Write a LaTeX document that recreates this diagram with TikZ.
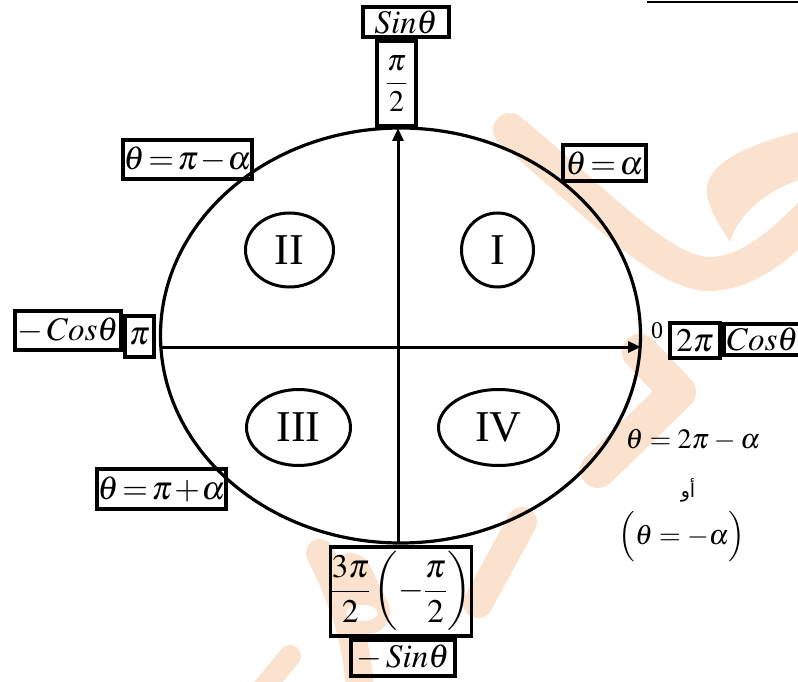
\documentclass[tikz,border=0pt]{standalone}
\usepackage{amsmath}
\usepackage{mathptmx}
\usepackage{fontspec}
\setmainfont{Liberation Serif}
\newfontfamily\arabicfont[Script=Arabic]{DejaVu Sans}
\TeXXeTstate=1
\usetikzlibrary{shapes.geometric,arrows.meta}
\definecolor{wm}{RGB}{251,226,206}
\begin{document}
\thickmuskip=2mu\relax
\medmuskip=1mu\relax
\begin{tikzpicture}[x=1pt,y=-1pt,
  box/.style={draw,fill=none,line width=3.5pt,inner sep=0pt,anchor=center,font=\fontsize{33}{40}\selectfont},
  quad/.style={draw,fill=none,ellipse,line width=3pt,inner sep=0pt,font=\fontsize{44}{50}\selectfont},
  axis/.style={line width=3pt,-{Triangle[length=13pt,width=11pt]}},
  note/.style={inner sep=0pt,font=\fontsize{28}{32}\selectfont},
  wmstroke/.style={wm,line cap=round,line join=round}]
\useasboundingbox (0,0) rectangle (798,682);
% watermark (approximate)
\draw[wmstroke,line width=34pt] (510,130) .. controls (600,205) and (660,272) .. (708,274) .. controls (745,274) and (775,250) .. (810,215);
\fill[wm] (805,130) .. controls (745,145) and (702,165) .. (707,195) .. controls (711,215) and (724,232) .. (730,242) .. controls (738,215) and (765,190) .. (805,178) -- cycle;
\draw[wmstroke,line width=36pt] (640,352) -- (678,392) -- (598,470);
\draw[wmstroke,line width=28pt] (320,553) .. controls (340,595) and (356,630) .. (360,690);
\draw[wmstroke,line width=44pt] (350,575) -- (368,612);
\fill[white] (362,613) ellipse [x radius=16, y radius=8];
\draw[wmstroke,line width=30pt] (522,522) -- (478,603);
\draw[wmstroke,line width=22pt] (262,690) -- (290,656);
% main circle
\node[draw,fill=none,ellipse,line width=3.2pt,minimum width=480pt,minimum height=415pt,inner sep=0pt] (circ) at (400.5,335.5) {};
\coordinate (west) at (160.8,347);
\coordinate (east) at (641,347);
\coordinate (south) at (398,543);
\coordinate (north) at (398,128);
\draw[axis] (west) -- (east);
\draw[axis] (south) -- (north);
% quadrants
\node[quad,minimum width=88pt,minimum height=74pt] (q2) at (289.5,250) {II};
\node[quad,minimum width=72pt,minimum height=74pt] (q1) at (497.5,250) {I};
\node[quad,minimum width=104pt,minimum height=76pt] (q3) at (298.5,427.5) {III};
\node[quad,minimum width=120pt,minimum height=76pt] (q4) at (498.5,427.5) {IV};
% label boxes
\node[box,minimum width=86pt,minimum height=30pt] (sin) at (406,22) {$Sin\theta$};
\node[box,minimum width=39pt,minimum height=85pt,font=\fontsize{30}{36}\selectfont] (pihalf) at (396.5,83.5) {\raisebox{-2pt}{$\dfrac{\pi}{2}$}};
\node[box,minimum width=106pt,minimum height=39pt] (mcos) at (68,330.5) {$-\,Cos\theta$};
\node[box,minimum width=29pt,minimum height=41pt] (pi) at (139.5,336.5) {$\pi$};
\node[box,minimum width=50pt,minimum height=35pt] (twopi) at (695,340.5) {$2\pi$};
\node[box,minimum width=96pt,minimum height=31pt,text width=90pt,align=left] (cos) at (772,339.5) {$Cos\theta$};
\node[inner sep=0pt,font=\fontsize{24}{28}\selectfont] (zero) at (657,331) {0};
\node[box,minimum width=129pt,minimum height=39pt] (q2a) at (187.5,159.5) {$\theta=\pi-\alpha$};
\node[box,minimum width=83pt,minimum height=36pt] (q1a) at (604.5,163) {$\theta=\alpha$};
\node[box,minimum width=129pt,minimum height=40pt] (q3a) at (161.5,489) {$\theta=\pi+\alpha$};
\node[box,minimum width=140pt,minimum height=89pt] (threepi) at (401,591.5) {$\dfrac{3\pi}{2}\left(\vrule height 36pt depth 32pt width 0pt -\dfrac{\pi}{2}\right)$};
\node[box,minimum width=104pt,minimum height=36pt] (msin) at (403,658) {$-\,Sin\theta$};
% right notes
\node[note] (q4a) at (693,440) {$\theta\;=\;2\pi\;-\;\alpha$};
\node[inner sep=0pt,font=\fontsize{19}{22}\selectfont] (or) at (688,490) {\arabicfont\beginR أو\endR};
\node[note] (q4b) at (682,537) {$\Bigl(\theta\;=\;-\alpha\Bigr)$};
% top right rule
\coordinate (ruleA) at (647,2);
\coordinate (ruleB) at (798,2);
\draw[line width=2pt] (ruleA) -- (ruleB);
\end{tikzpicture}
\end{document}
